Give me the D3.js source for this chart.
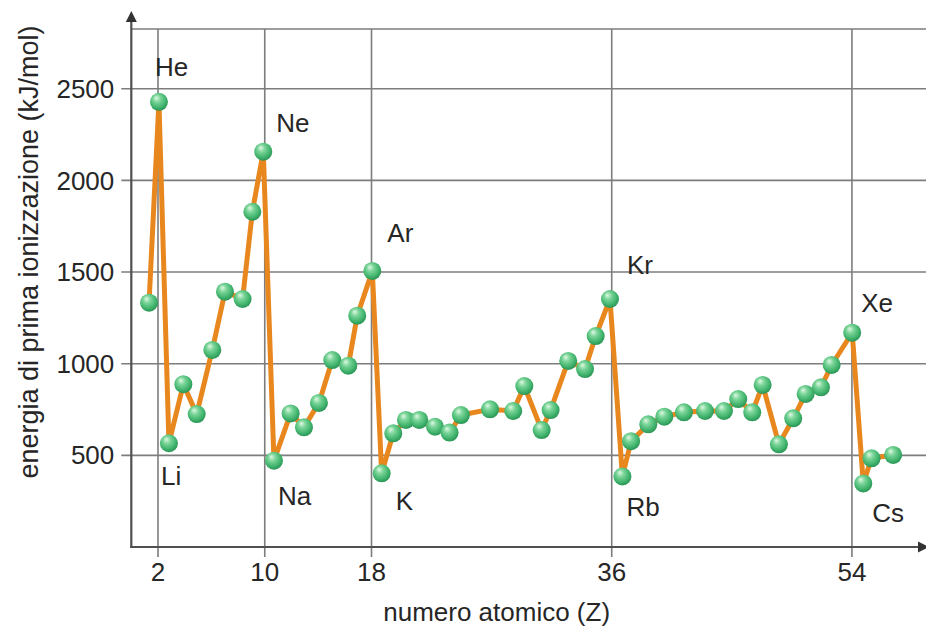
<!DOCTYPE html>
<html>
<head>
<meta charset="utf-8">
<script src="https://cdn.jsdelivr.net/npm/d3@7"></script>
<style>
  body { margin: 0; background: #fff; }
  svg { display: block; font-family: "Liberation Sans", Arial, Helvetica, sans-serif; }
  .lbl { font-size: 26px; fill: #262626; }
  .ytitle { font-size: 27px; fill: #262626; }
</style>
</head>
<body>
<div id="chart"></div>
<script>
var zValues = [1.33, 2.07, 2.82, 3.90, 4.90, 6.07, 7.02, 8.34, 9.07, 9.89,
               10.69, 11.94, 12.94, 14.06, 15.06, 16.26, 16.93, 18.06,
               18.76, 19.63, 20.58, 21.58, 22.76, 23.85, 24.70, 26.88, 28.62, 29.45,
               30.75, 31.42, 32.74, 34.00, 34.80, 35.87,
               36.80, 37.45, 38.74, 39.94, 41.41, 42.99, 44.41, 45.48, 46.53, 47.31,
               48.53, 49.60, 50.53, 51.68, 52.48, 54.02,
               54.85, 55.47, 57.09];
var energies = [1333, 2429, 566, 888, 725, 1075, 1393, 1353, 1829, 2157,
                471, 729, 653, 786, 1020, 989, 1262, 1506,
                402, 620, 693, 693, 656, 624, 720, 751, 742, 878,
                638, 747, 1015, 971, 1151, 1353,
                385, 577, 669, 711, 735, 742, 742, 807, 735, 884,
                560, 702, 835, 871, 993, 1169,
                347, 484, 502];

// element labels and the point they belong to
var labelNames = ["He", "Ne", "Ar", "Kr", "Xe", "Li", "Na", "K", "Rb", "Cs"];
var labelPoint = [1, 9, 17, 33, 49, 2, 10, 18, 34, 50];

var xTicks = [2, 10, 18, 36, 54];
var yTicks = [500, 1000, 1500, 2000, 2500];

var xTitle = "numero atomico (Z)";
var yTitle = "energia di prima ionizzazione (kJ/mol)";

(function () {
  var W = 926, H = 627;
  var mLeft = 131.3, mRight = 926, mTop = 29, mBottom = 547;

  // label offsets from their point (text start, baseline)
  var labelOffset = {
    He: [-4, -26], Ne: [13, -20], Ar: [15, -29], Kr: [17, -25], Xe: [9, -21],
    Li: [-8, 42], Na: [4, 44], K: [14, 37], Rb: [4, 40], Cs: [9, 39]
  };

  var data = zValues.map(function (z, i) { return { z: z, e: energies[i] }; });

  var x = d3.scaleLinear().domain([0, 59.55]).range([mLeft, mRight]);
  var y = d3.scaleLinear().domain([0, 2826]).range([mBottom, mTop]);

  var svg = d3.select("#chart").append("svg")
    .attr("width", W)
    .attr("height", H);

  var defs = svg.append("defs");
  var grad = defs.append("radialGradient")
    .attr("id", "ball")
    .attr("cx", "45%").attr("cy", "40%").attr("r", "60%")
    .attr("fx", "35%").attr("fy", "28%");
  grad.append("stop").attr("offset", "0%").attr("stop-color", "#e0f8e4");
  grad.append("stop").attr("offset", "35%").attr("stop-color", "#7ad598");
  grad.append("stop").attr("offset", "75%").attr("stop-color", "#42b46e");
  grad.append("stop").attr("offset", "100%").attr("stop-color", "#2a9455");

  // grid: horizontal lines with tick stubs, top frame, vertical lines
  var grid = svg.append("g").attr("stroke", "#7d7d7d").attr("stroke-width", 1.6);

  grid.selectAll("line.h")
    .data(yTicks)
    .enter().append("line")
    .attr("class", "h")
    .attr("x1", mLeft - 10).attr("x2", mRight)
    .attr("y1", function (d) { return y(d); })
    .attr("y2", function (d) { return y(d); });

  grid.append("line")
    .attr("x1", mLeft).attr("x2", mRight)
    .attr("y1", mTop).attr("y2", mTop);

  grid.selectAll("line.v")
    .data(xTicks)
    .enter().append("line")
    .attr("class", "v")
    .attr("x1", function (d) { return x(d); })
    .attr("x2", function (d) { return x(d); })
    .attr("y1", mTop).attr("y2", mBottom + 10);

  // tick labels
  svg.append("g").selectAll("text")
    .data(yTicks)
    .enter().append("text")
    .attr("class", "lbl")
    .attr("x", mLeft - 17)
    .attr("y", function (d) { return y(d); })
    .attr("dy", "0.35em")
    .attr("text-anchor", "end")
    .text(function (d) { return d; });

  svg.append("g").selectAll("text")
    .data(xTicks)
    .enter().append("text")
    .attr("class", "lbl")
    .attr("x", function (d) { return x(d); })
    .attr("y", mBottom + 34)
    .attr("text-anchor", "middle")
    .text(function (d) { return d; });

  // axes with arrows
  var axes = svg.append("g").attr("stroke", "#505050").attr("stroke-width", 2.2);
  axes.append("line")
    .attr("x1", mLeft).attr("x2", mLeft)
    .attr("y1", mBottom + 1).attr("y2", 20);
  axes.append("line")
    .attr("x1", mLeft - 1).attr("x2", mRight)
    .attr("y1", mBottom).attr("y2", mBottom);

  svg.append("path")
    .attr("d", "M" + (mLeft - 5.5) + ",22L" + mLeft + ",11L" + (mLeft + 5.5) + ",22Z")
    .attr("fill", "#333");
  svg.append("path")
    .attr("d", "M918," + (mBottom - 5.5) + "L929," + mBottom + "L918," + (mBottom + 5.5) + "Z")
    .attr("fill", "#333");

  // axis titles
  svg.append("text")
    .attr("class", "lbl")
    .attr("x", (mLeft + 862) / 2)
    .attr("y", 621)
    .attr("text-anchor", "middle")
    .text(xTitle);

  svg.append("text")
    .attr("class", "ytitle")
    .attr("transform", "translate(38,252) rotate(-90)")
    .attr("text-anchor", "middle")
    .text(yTitle);

  // series line and markers
  var line = d3.line()
    .x(function (d) { return x(d.z); })
    .y(function (d) { return y(d.e); });

  svg.append("path")
    .datum(data)
    .attr("d", line)
    .attr("fill", "none")
    .attr("stroke", "#e8871e")
    .attr("stroke-width", 5)
    .attr("stroke-linejoin", "round");

  svg.append("g").selectAll("circle")
    .data(data)
    .enter().append("circle")
    .attr("cx", function (d) { return x(d.z); })
    .attr("cy", function (d) { return y(d.e); })
    .attr("r", 9)
    .attr("fill", "url(#ball)");

  // element labels
  svg.append("g").selectAll("text")
    .data(labelNames)
    .enter().append("text")
    .attr("class", "lbl")
    .attr("x", function (d, i) { return x(data[labelPoint[i]].z) + labelOffset[d][0]; })
    .attr("y", function (d, i) { return y(data[labelPoint[i]].e) + labelOffset[d][1]; })
    .text(function (d) { return d; });
})();
</script>
</body>
</html>
